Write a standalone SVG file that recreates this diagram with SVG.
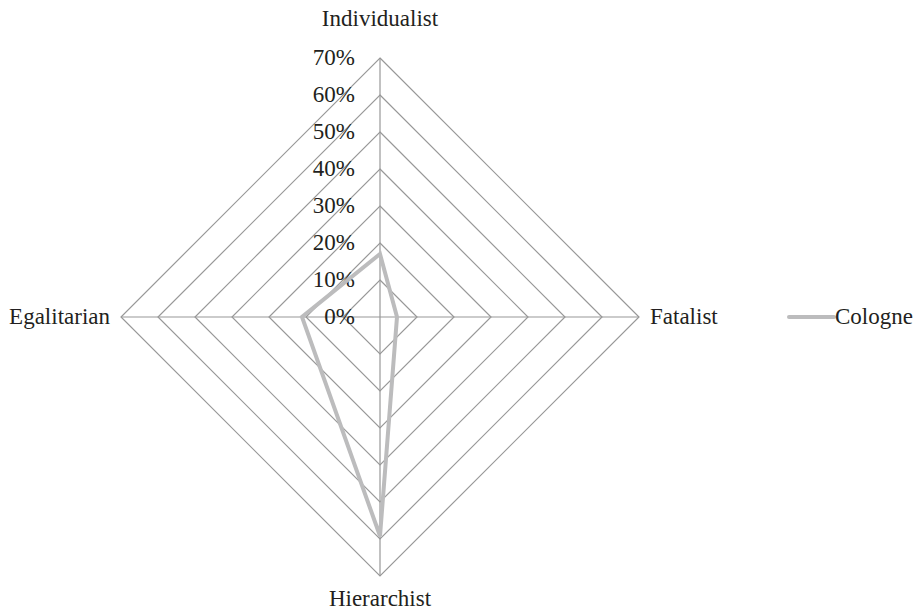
<svg xmlns="http://www.w3.org/2000/svg" width="918" height="611" viewBox="0 0 918 611">
<style>
.grid{fill:none;stroke:#989898;stroke-width:1.2}
.axis{stroke:#989898;stroke-width:1.2}
.series{fill:none;stroke:#bcbcbd;stroke-width:4;stroke-linejoin:miter}
text{font-family:"Liberation Serif","Times New Roman",serif;font-size:23px;fill:#231f20}
.tick{text-anchor:end}
</style>
<rect width="918" height="611" fill="#ffffff"/>
<g id="grid">
<polygon class="grid" points="380,280 417,317 380,354 343,317"/>
<polygon class="grid" points="380,243 454,317 380,391 306,317"/>
<polygon class="grid" points="380,206 491,317 380,428 269,317"/>
<polygon class="grid" points="380,169 528,317 380,465 232,317"/>
<polygon class="grid" points="380,132 565,317 380,502 195,317"/>
<polygon class="grid" points="380,95 602,317 380,539 158,317"/>
<polygon class="grid" points="380,58 639,317 380,576 121,317"/>
<line class="axis" x1="380" y1="58" x2="380" y2="576"/>
<line class="axis" x1="121" y1="317" x2="639" y2="317"/>
</g>
<g id="ticks">
<text class="tick" x="355" y="324">0%</text>
<text class="tick" x="355" y="287">10%</text>
<text class="tick" x="355" y="250">20%</text>
<text class="tick" x="355" y="213">30%</text>
<text class="tick" x="355" y="176">40%</text>
<text class="tick" x="355" y="139">50%</text>
<text class="tick" x="355" y="102">60%</text>
<text class="tick" x="355" y="65">70%</text>
</g>
<g id="axis-labels">
<text id="individualist" x="380" y="26" text-anchor="middle">Individualist</text>
<text id="fatalist" x="650" y="324">Fatalist</text>
<text id="hierarchist" x="380" y="606" text-anchor="middle">Hierarchist</text>
<text id="egalitarian" x="110" y="324" text-anchor="end">Egalitarian</text>
</g>
<g id="series-cologne">
<polygon class="series" points="380,254 397,317 380,536 302,317"/>
</g>
<g id="legend">
<line x1="789" y1="317" x2="834" y2="317" stroke="#bcbcbd" stroke-width="4" stroke-linecap="round"/>
<text x="835" y="324">Cologne</text>
</g>
</svg>
